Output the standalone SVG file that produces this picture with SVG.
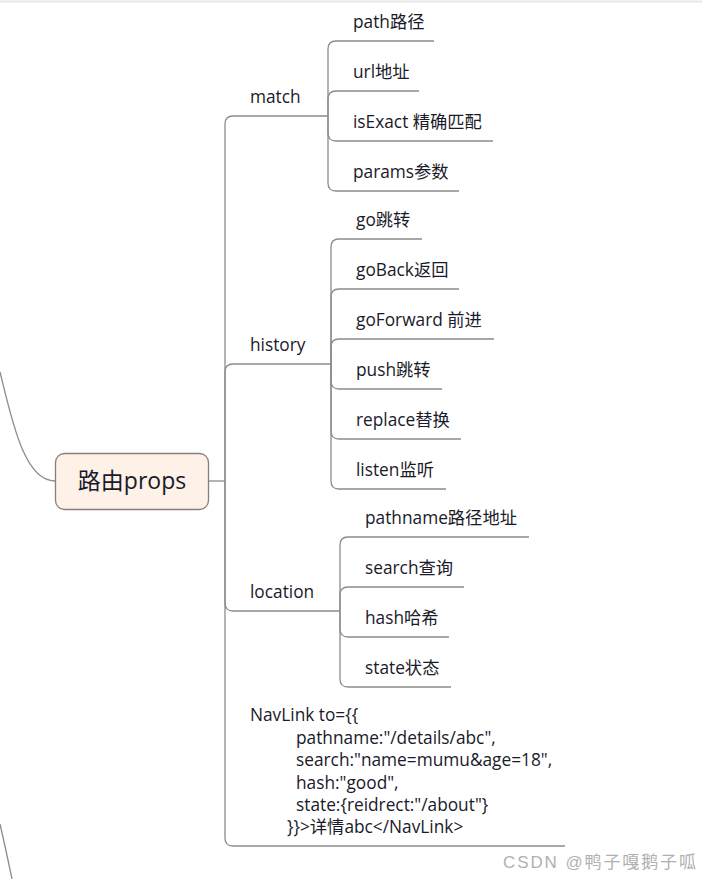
<svg xmlns="http://www.w3.org/2000/svg" width="702" height="879" viewBox="0 0 702 879">
<style>
.c{fill:none;stroke:#8c8c8c;stroke-width:1.3}
.t{font-family:"Open Sans","Noto Sans CJK SC",sans-serif;font-size:17.3px;fill:#1a1a2a}
.r{font-family:"Open Sans","Noto Sans CJK SC",sans-serif;font-size:23px;fill:#1a1a2a}
</style>
<rect x="0" y="0" width="702" height="879" fill="#ffffff"/>
<line x1="0" y1="1.5" x2="702" y2="1.5" stroke="#e6e6e6" stroke-width="2"/>
<g id="connectors">
<path class="c" d="M0,372 C12,420 24,481 55,481"/>
<path class="c" d="M0,824 Q6,850 12,879"/>
<path class="c" d="M209,481 H225"/>
<path class="c" d="M225,481 V124 Q225,116 233,116 H328"/>
<path class="c" d="M225,481 V372 Q225,364 233,364 H331"/>
<path class="c" d="M225,481 V603 Q225,611 233,611 H340"/>
<path class="c" d="M225,481 V838 Q225,846 233,846 H565"/>
<path class="c" d="M328,116 V49 Q328,41 336,41 H434"/>
<path class="c" d="M328,116 V99 Q328,91 336,91 H419"/>
<path class="c" d="M328,116 V133 Q328,141 336,141 H493"/>
<path class="c" d="M328,116 V183 Q328,191 336,191 H459"/>
<path class="c" d="M331,364 V247 Q331,239 339,239 H422"/>
<path class="c" d="M331,364 V297 Q331,289 339,289 H459"/>
<path class="c" d="M331,364 V347 Q331,339 339,339 H494"/>
<path class="c" d="M331,364 V381 Q331,389 339,389 H442"/>
<path class="c" d="M331,364 V431 Q331,439 339,439 H461"/>
<path class="c" d="M331,364 V481 Q331,489 339,489 H446"/>
<path class="c" d="M340,611 V545 Q340,537 348,537 H529"/>
<path class="c" d="M340,611 V595 Q340,587 348,587 H464"/>
<path class="c" d="M340,611 V629 Q340,637 348,637 H449"/>
<path class="c" d="M340,611 V679 Q340,687 348,687 H451"/>
</g>
<g id="root">
<rect x="55.5" y="453.5" width="153" height="56" rx="9" fill="#fdf1e8" stroke="#8a7e76" stroke-width="1.3"/>
<text class="r" x="132" y="489" text-anchor="middle">路由props</text>
</g>
<g id="match"><text class="t" x="250" y="103">match</text></g>
<g id="path"><text class="t" x="353" y="28">path路径</text></g>
<g id="url"><text class="t" x="353" y="78">url地址</text></g>
<g id="isExact"><text class="t" x="353" y="128">isExact 精确匹配</text></g>
<g id="params"><text class="t" x="353" y="178">params参数</text></g>
<g id="history"><text class="t" x="250" y="351">history</text></g>
<g id="go"><text class="t" x="356" y="226">go跳转</text></g>
<g id="goBack"><text class="t" x="356" y="276">goBack返回</text></g>
<g id="goForward"><text class="t" x="356" y="326">goForward 前进</text></g>
<g id="push"><text class="t" x="356" y="376">push跳转</text></g>
<g id="replace"><text class="t" x="356" y="426">replace替换</text></g>
<g id="listen"><text class="t" x="356" y="476">listen监听</text></g>
<g id="location"><text class="t" x="250" y="598">location</text></g>
<g id="pathname"><text class="t" x="365" y="524">pathname路径地址</text></g>
<g id="search"><text class="t" x="365" y="574">search查询</text></g>
<g id="hash"><text class="t" x="365" y="624">hash哈希</text></g>
<g id="state"><text class="t" x="365" y="674">state状态</text></g>
<g id="navlink">
<text class="t" x="250" y="721">NavLink to={{</text>
<text class="t" x="296" y="743.5">pathname:"/details/abc",</text>
<text class="t" x="296" y="766">search:"name=mumu&amp;age=18",</text>
<text class="t" x="296" y="788.5">hash:"good",</text>
<text class="t" x="296" y="811">state:{reidrect:"/about"}</text>
<text class="t" x="287" y="833">}}&gt;详情abc&lt;/NavLink&gt;</text>
</g>
<text x="503" y="868" font-family="'Liberation Sans','Noto Sans CJK SC',sans-serif" font-size="17" fill="#b0b0b0" textLength="193" lengthAdjust="spacing">CSDN @鸭子嘎鹅子呱</text>
</svg>
